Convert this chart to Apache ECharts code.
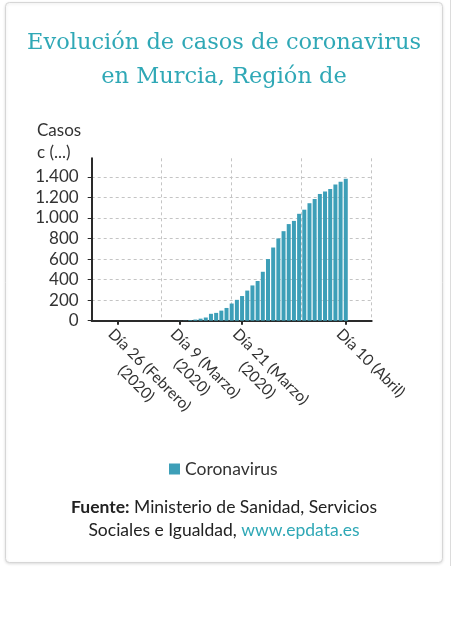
<!DOCTYPE html>
<html>
<head>
<meta charset="utf-8">
<script src="https://cdn.jsdelivr.net/npm/echarts@6/dist/echarts.min.js"></script>
<style>
html,body{margin:0;padding:0;background:#fff;}
#chart{width:454px;height:640px;}
</style>
</head>
<body>
<div id="chart"></div>
<script>
// ---- data ----
const categories = [
  '21/02','22/02','23/02','24/02','25/02','26/02','27/02','28/02','29/02',
  '01/03','02/03','03/03','04/03','05/03','06/03','07/03','08/03','09/03','10/03',
  '11/03','12/03','13/03','14/03','15/03','16/03','17/03','18/03','19/03','20/03',
  '21/03','22/03','23/03','24/03','25/03','26/03','27/03','28/03','29/03','30/03','31/03',
  '01/04','02/04','03/04','04/04','05/04','06/04','07/04','08/04','09/04','10/04',
  '11/04','12/04','13/04','14/04','15/04'
];
const casos = [
  null, null, null, null, null,
  0, 0, 0, 0, 0, 0, 0, 0, 0, 0, 0, 0,
  1, 2, 6, 11, 20, 31, 67, 76, 98, 124, 167, 203,
  240, 293, 343, 386, 476, 600, 712, 800, 871, 940, 971,
  1040, 1080, 1143, 1184, 1233, 1256, 1282, 1326, 1353, 1380,
  null, null, null, null, null
];
const tickDates = ['26/02', '09/03', '21/03', '10/04'];
const tickLabels = [
  ['Día 26 (Febrero)', '(2020)'],
  ['Día 9 (Marzo)', '(2020)'],
  ['Día 21 (Marzo)', '(2020)'],
  ['Día 10 (Abril)']
];
const seriesName = 'Coronavirus';
const titleText = 'Evolución de casos de coronavirus\nen Murcia, Región de';
const yName = 'Casos\nc (...)';

// ---- styles ----
const SANS = 'Lato, "Noto Sans", sans-serif';
const TEAL = '#2fa8b6';
const BAR = '#3d9fb8';
const TXT = '#333';

function fmt(v) {
  return String(v).replace(/\B(?=(\d{3})+(?!\d))/g, '.');
}

const chart = echarts.init(document.getElementById('chart'), null, {renderer: 'canvas'});
chart.setOption({
  animation: false,
  backgroundColor: '#fff',
  graphic: [
    {
      type: 'rect', z: -100, silent: true,
      shape: {x: 5.5, y: 2.5, width: 437, height: 560, r: 4},
      style: {fill: '#fff', stroke: '#d6d6d6', lineWidth: 1,
              shadowBlur: 3, shadowColor: 'rgba(0,0,0,0.12)', shadowOffsetY: 1}
    },
    {
      type: 'line', z: -100, silent: true,
      shape: {x1: 450.5, y1: 0, x2: 450.5, y2: 566},
      style: {stroke: '#dcdcdc', lineWidth: 1}
    }
  ],
  title: [
    {
      text: titleText,
      left: 224, top: 26, padding: 0,
      textAlign: 'center',
      textStyle: {fontFamily: '"DejaVu Serif", serif', fontSize: 22.5, fontWeight: 'normal',
                  color: TEAL, lineHeight: 34}
    },
    {
      text: yName,
      left: 37, top: 120, padding: 0,
      textStyle: {fontFamily: SANS, fontSize: 17, fontWeight: 'normal', color: TXT, lineHeight: 22}
    },
    {
      text: '{b|Fuente:}{n| Ministerio de Sanidad, Servicios}\n{n|Sociales e Igualdad, }{l|www.epdata.es}',
      left: 224, top: 496, padding: 0,
      textAlign: 'center',
      textStyle: {
        fontFamily: SANS, fontSize: 17.5, color: TXT, lineHeight: 23,
        rich: {
          b: {fontFamily: SANS, fontSize: 17.5, fontWeight: 'bold', color: '#222', lineHeight: 23, align: 'center'},
          n: {fontFamily: SANS, fontSize: 17.5, fontWeight: 'normal', color: '#222', lineHeight: 23, align: 'center'},
          l: {fontFamily: SANS, fontSize: 17.5, fontWeight: 'normal', color: TEAL, lineHeight: 23, align: 'center'}
        }
      }
    }
  ],
  legend: {
    data: [seriesName],
    top: 460, left: 169, padding: 0,
    icon: 'rect', itemWidth: 11, itemHeight: 11, itemGap: 10,
    textStyle: {fontFamily: SANS, fontSize: 17.5, color: TXT}
  },
  grid: {left: 91.7, right: 82.3, top: 158.3, bottom: 319.3, containLabel: false},
  xAxis: [
    {
      type: 'category',
      data: categories,
      boundaryGap: false,
      axisLine: {show: true, lineStyle: {color: '#2a2a2a', width: 2}},
      axisTick: {show: true, length: 4, lineStyle: {color: '#2a2a2a', width: 2},
                 interval: (i, v) => tickDates.indexOf(v) >= 0},
      axisLabel: {
        interval: (i, v) => tickDates.indexOf(v) >= 0,
        rotate: -45, align: 'left', verticalAlign: 'top', margin: 4,
        formatter: (v) => {
          const k = tickDates.indexOf(v);
          if (k < 0) return '';
          return tickLabels[k].map(s => '{c|' + s + '}').join('\n');
        },
        rich: {c: {fontFamily: SANS, fontSize: 15.5, color: TXT, lineHeight: 19, align: 'center'}}
      },
      splitLine: {show: false}
    },
    {
      type: 'value', min: 0, max: 4, interval: 1, position: 'top',
      axisLine: {show: false}, axisTick: {show: false}, axisLabel: {show: false},
      splitLine: {show: true, showMinLine: false, showMaxLine: true,
                  lineStyle: {color: '#c4c4c4', type: [3, 3], width: 1}}
    }
  ],
  yAxis: {
    type: 'value', min: 0, max: 1580, interval: 200,
    axisLine: {show: true, lineStyle: {color: '#2a2a2a', width: 2}},
    axisTick: {show: true, length: 4, lineStyle: {color: '#2a2a2a', width: 1}},
    axisLabel: {
      margin: 13, fontFamily: SANS, fontSize: 17, color: TXT,
      showMaxLabel: false,
      formatter: (v) => (v > 1400 ? '' : fmt(v))
    },
    splitLine: {show: true, showMaxLine: false,
                lineStyle: {color: '#c4c4c4', type: [3, 3], width: 1}}
  },
  series: [{
    name: seriesName,
    type: 'bar',
    xAxisIndex: 0, yAxisIndex: 0,
    data: casos,
    barWidth: 4,
    itemStyle: {color: BAR}
  }]
});
</script>
</body>
</html>
